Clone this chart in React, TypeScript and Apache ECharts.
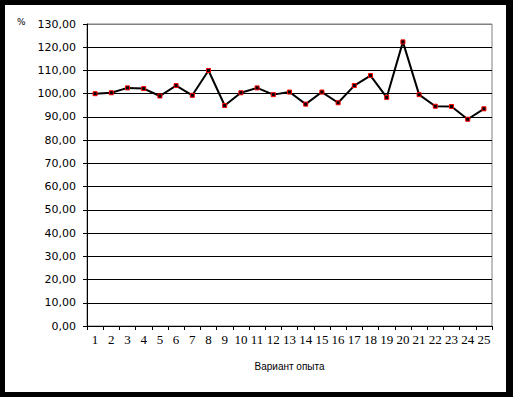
import React, { useEffect, useRef } from "react";
import * as echarts from "echarts";

const categories = ["1","2","3","4","5","6","7","8","9","10","11","12","13","14","15","16","17","18","19","20","21","22","23","24","25"];
const values = [100.0, 100.4, 102.5, 102.2, 99.0, 103.5, 99.3, 110.0, 94.9, 100.4, 102.5, 99.6, 100.7, 95.5, 100.7, 96.1, 103.5, 107.8, 98.4, 122.3, 99.6, 94.6, 94.5, 89.0, 93.5];
const xTitle = "Вариант опыта";
const yUnit = "%";

export default function App() {
  const ref = useRef<HTMLDivElement>(null);
  useEffect(() => {
    document.body.style.margin = "0";
    const chart = echarts.init(ref.current!, null, { renderer: "svg" });
    const splitColors: string[] = [];
    for (let i = 0; i < 13; i++) splitColors.push("#000000");
    splitColors.push("#808080");
    chart.setOption({
      animation: false,
      backgroundColor: "#ffffff",
      grid: {
        left: 82,
        right: 14,
        top: 19,
        bottom: 66,
        show: true,
        borderColor: "#808080",
        borderWidth: 1,
        backgroundColor: "transparent",
      },
      graphic: [
        {
          type: "text",
          left: 12,
          top: 12,
          style: { text: yUnit, font: "9px 'DejaVu Sans'", fill: "#000" },
        },
      ],
      xAxis: {
        type: "category",
        data: categories,
        boundaryGap: true,
        name: xTitle,
        nameLocation: "middle",
        nameGap: 35,
        nameTextStyle: { fontFamily: "'Liberation Sans'", fontSize: 10, color: "#000" },
        axisLine: { lineStyle: { color: "#000", width: 1 } },
        axisTick: { show: true, length: 4, inside: false, alignWithLabel: false, lineStyle: { color: "#000" } },
        axisLabel: {
          interval: 0,
          margin: 7,
          fontFamily: "'Liberation Serif'",
          fontSize: 13,
          color: "#000",
        },
        splitLine: { show: false },
      },
      yAxis: {
        type: "value",
        min: 0,
        max: 130,
        interval: 10,
        axisLine: { show: true, lineStyle: { color: "#000", width: 1 } },
        axisTick: { show: true, length: 4, inside: false, lineStyle: { color: "#000" } },
        axisLabel: {
          margin: 11,
          fontFamily: "'DejaVu Sans'",
          fontSize: 11,
          color: "#000",
          formatter: (v: number) => v.toFixed(2).replace(".", ","),
        },
        splitLine: { show: true, lineStyle: { color: splitColors, width: 1 } },
      },
      series: [
        {
          type: "line",
          data: values,
          symbol: "rect",
          symbolSize: 4,
          showAllSymbol: true,
          lineStyle: { color: "#000", width: 2 },
          itemStyle: { color: "#000", borderColor: "#ff0000", borderWidth: 1 },
        },
      ],
    });
    return () => chart.dispose();
  }, []);
  return (
    <div style={{ position: "relative", width: 513, height: 397, background: "#000" }}>
      <div
        ref={ref}
        style={{ position: "absolute", left: 5, top: 5, width: 501, height: 387, background: "#fff" }}
      />
    </div>
  );
}
